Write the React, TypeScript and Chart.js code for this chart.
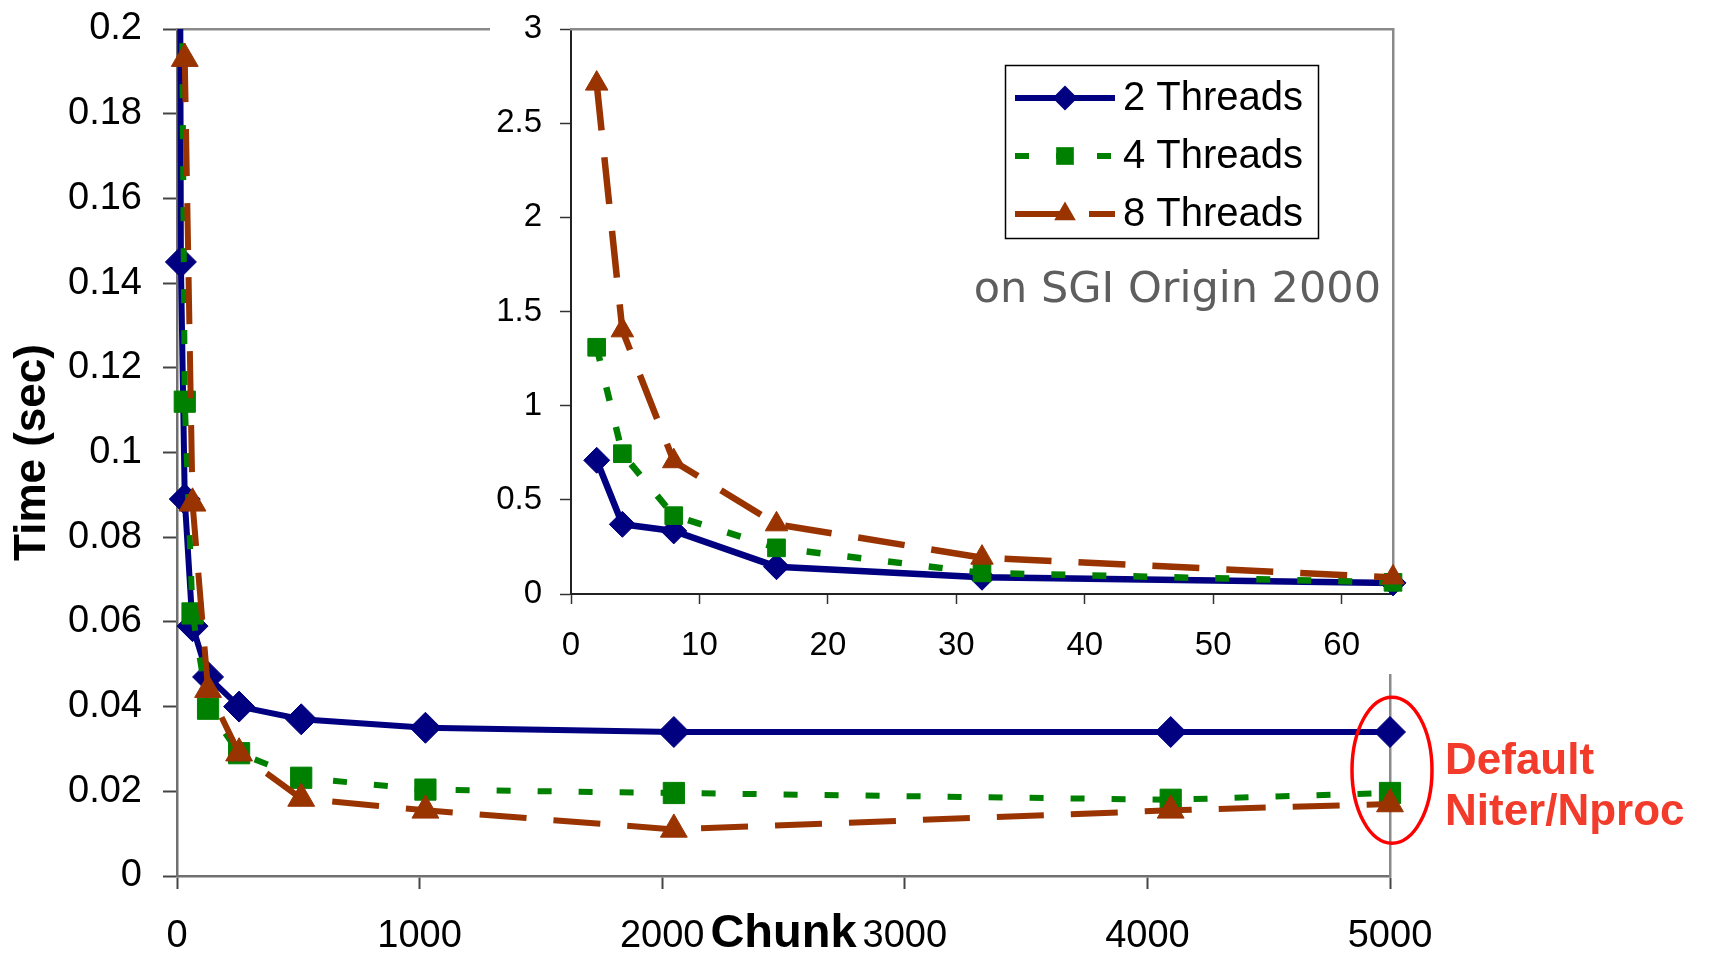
import React, { useEffect, useRef } from 'react';
import { Chart, registerables } from 'chart.js';

Chart.register(...registerables);

// ---------- data ----------
const chunks = [2, 4, 8, 16, 32, 64, 128, 256, 512, 1024, 2048, 4096, 5000];
const threads2 = [0.71, 0.37, 0.335, 0.145, 0.089, 0.059, 0.047, 0.04, 0.037, 0.035, 0.034, 0.034, 0.034];
const threads4 = [1.31, 0.745, 0.416, 0.245, 0.112, 0.062, 0.0395, 0.029, 0.0232, 0.0204, 0.0196, 0.018, 0.0196];
const threads8 = [2.71, 1.4, 0.705, 0.37, 0.193, 0.088, 0.044, 0.029, 0.0183, 0.0155, 0.011, 0.0155, 0.017];
const seriesLabels = ['2 Threads', '4 Threads', '8 Threads'];

const mainXTicks = [0, 1000, 2000, 3000, 4000, 5000];
const mainXTickLabels = ['0', '1000', '2000', '3000', '4000', '5000'];
const mainYTicks = [0, 0.02, 0.04, 0.06, 0.08, 0.1, 0.12, 0.14, 0.16, 0.18, 0.2];
const mainYTickLabels = ['0', '0.02', '0.04', '0.06', '0.08', '0.1', '0.12', '0.14', '0.16', '0.18', '0.2'];
const insetXTicks = [0, 10, 20, 30, 40, 50, 60];
const insetXTickLabels = ['0', '10', '20', '30', '40', '50', '60'];
const insetYTicks = [0, 0.5, 1, 1.5, 2, 2.5, 3];
const insetYTickLabels = ['0', '0.5', '1', '1.5', '2', '2.5', '3'];
const insetMaxChunk = 64;

const xTitle = 'Chunk';
const yTitle = 'Time (sec)';
const platformNote = 'on SGI Origin 2000';
const annotationLines = ['Default', 'Niter/Nproc'];
const annotatedChunk = 5000;
const annotatedTime = 0.025;

// ---------- styles ----------
const FONT = "'Liberation Sans', Arial, sans-serif";
const styles = [
  { color: '#000080', dash: [] as number[], pointStyle: 'rectRot', mainR: 15.5, insetR: 13, order: 2 },
  { color: '#008000', dash: [14, 27], pointStyle: 'rect', mainR: 15, insetR: 12.5, order: 1 },
  { color: '#993300', dash: [47, 27], pointStyle: 'triangle', mainR: 15.5, insetR: 13, order: 0 },
];
const seriesValues = [threads2, threads4, threads8];

function buildDatasets(maxChunk: number, inset: boolean) {
  return seriesValues.map((vals, i) => {
    const st = styles[i];
    const pts = chunks
      .map((c, k) => ({ x: c, y: vals[k] }))
      .filter((p) => p.x <= maxChunk);
    return {
      label: seriesLabels[i],
      data: pts,
      borderColor: st.color,
      backgroundColor: st.color,
      borderWidth: inset ? 6.5 : 6,
      borderDash: st.dash,
      pointStyle: st.pointStyle,
      pointRadius: inset ? st.insetR : st.mainR,
      pointBorderWidth: 1,
      pointBackgroundColor: st.color,
      pointBorderColor: st.color,
      tension: 0,
      order: st.order,
      clip: { left: 20, right: 30, top: 0, bottom: 20 },
    };
  });
}

function markerPath(ctx: CanvasRenderingContext2D, style: string, x: number, y: number, r: number) {
  ctx.beginPath();
  if (style === 'rectRot') {
    ctx.moveTo(x - r, y);
    ctx.lineTo(x, y - r);
    ctx.lineTo(x + r, y);
    ctx.lineTo(x, y + r);
  } else if (style === 'rect') {
    const s = r * Math.SQRT1_2;
    ctx.rect(x - s, y - s, 2 * s, 2 * s);
  } else {
    ctx.moveTo(x, y - r);
    ctx.lineTo(x + r * Math.sin((2 * Math.PI) / 3), y - r * Math.cos((2 * Math.PI) / 3));
    ctx.lineTo(x + r * Math.sin((4 * Math.PI) / 3), y - r * Math.cos((4 * Math.PI) / 3));
  }
  ctx.closePath();
}

const annotationPlugin = {
  id: 'defaultAnnotation',
  afterDraw(chart: any) {
    const ctx: CanvasRenderingContext2D = chart.ctx;
    const xs = chart.scales.x;
    const ys = chart.scales.y;
    const cx = xs.getPixelForValue(annotatedChunk) + 2;
    const cy = ys.getPixelForValue(annotatedTime);
    ctx.save();
    ctx.strokeStyle = '#ff0000';
    ctx.lineWidth = 3.5;
    ctx.beginPath();
    ctx.ellipse(cx, cy, 40, 73, 0, 0, Math.PI * 2);
    ctx.stroke();
    ctx.fillStyle = '#f23b2a';
    ctx.font = `bold 44px ${FONT}`;
    ctx.textAlign = 'left';
    ctx.textBaseline = 'alphabetic';
    annotationLines.forEach((t, i) => ctx.fillText(t, cx + 53, cy + 4 + i * 51));
    ctx.restore();
  },
};

const insetDecorPlugin = {
  id: 'insetDecor',
  afterDraw(chart: any) {
    const ctx: CanvasRenderingContext2D = chart.ctx;
    const area = chart.chartArea;
    ctx.save();
    // note text
    ctx.fillStyle = '#5e5e5e';
    ctx.font = `43px 'DejaVu Sans', sans-serif`;
    ctx.textAlign = 'right';
    ctx.textBaseline = 'alphabetic';
    ctx.fillText(platformNote, area.right - 12, area.top + 273);

    // legend box
    const bw = 313;
    const bh = 173;
    const bx = area.right - 75 - bw;
    const by = area.top + 36;
    ctx.fillStyle = '#ffffff';
    ctx.fillRect(bx, by, bw, bh);
    ctx.strokeStyle = '#000000';
    ctx.lineWidth = 1.5;
    ctx.strokeRect(bx + 0.5, by + 0.5, bw, bh);

    chart.data.datasets.forEach((ds: any, i: number) => {
      const y = by + 33 + i * 58;
      const x0 = bx + 10;
      const x1 = bx + 110;
      ctx.save();
      ctx.strokeStyle = ds.borderColor;
      ctx.lineWidth = 6;
      ctx.setLineDash(ds.borderDash || []);
      ctx.beginPath();
      ctx.moveTo(x0, y);
      ctx.lineTo(x1, y);
      ctx.stroke();
      ctx.setLineDash([]);
      ctx.fillStyle = ds.borderColor;
      markerPath(ctx, ds.pointStyle, (x0 + x1) / 2, y, 12.5);
      ctx.fill();
      ctx.restore();
      ctx.fillStyle = '#000000';
      ctx.font = `40px ${FONT}`;
      ctx.textAlign = 'left';
      ctx.textBaseline = 'middle';
      ctx.fillText(ds.label, bx + 118, y + 1);
    });
    ctx.restore();
  },
};

function fixedTicks(values: number[]) {
  return (scale: any) => {
    scale.ticks = values.map((v) => ({ value: v }));
  };
}

function sized(prop: 'width' | 'height', size: number) {
  return (s: any) => {
    s[prop] = size;
    s.paddingTop = 0;
    s.paddingBottom = 0;
    s.paddingLeft = 0;
    s.paddingRight = 0;
  };
}

function frameAxis(position: 'top' | 'right') {
  return {
    type: 'linear',
    position,
    min: 0,
    max: 1,
    ticks: { display: false },
    grid: { display: false, drawTicks: false },
    border: { display: true, color: '#8a8a8a', width: 2.5 },
    afterFit: sized(position === 'top' ? 'height' : 'width', 0),
  };
}

export default function App() {
  const mainRef = useRef<HTMLCanvasElement>(null);
  const insetRef = useRef<HTMLCanvasElement>(null);

  useEffect(() => {
    if (!mainRef.current || !insetRef.current) return;
    Chart.defaults.font.family = FONT;
    Chart.defaults.color = '#000';

    const main = new Chart(mainRef.current, {
      type: 'line',
      data: { datasets: buildDatasets(Infinity, false) as any },
      plugins: [annotationPlugin],
      options: {
        animation: false,
        responsive: false,
        devicePixelRatio: 1,
        layout: { padding: { left: 0, right: 319, top: 29, bottom: 0 } },
        plugins: { legend: { display: false }, tooltip: { enabled: false } },
        scales: {
          x: {
            type: 'linear',
            position: 'bottom',
            min: 0,
            max: 5000,
            afterBuildTicks: fixedTicks(mainXTicks),
            afterFit: sized('height', 83),
            ticks: { font: { size: 38 }, padding: 25, color: '#000', maxRotation: 0, callback: (_v: any, i: number) => mainXTickLabels[i] },
            grid: { display: true, drawOnChartArea: false, drawTicks: true, tickLength: 13, tickColor: '#444', tickWidth: 2 },
            border: { display: true, color: '#707070', width: 2.5 },
            title: { display: true, text: xTitle, font: { size: 47, weight: 'bold' }, color: '#000', padding: { top: 0, bottom: -3 } },
          },
          y: {
            type: 'linear',
            position: 'left',
            min: 0,
            max: 0.2,
            afterBuildTicks: fixedTicks(mainYTicks),
            afterFit: sized('width', 177),
            ticks: { font: { size: 38 }, padding: 21, color: '#000', callback: (_v: any, i: number) => mainYTickLabels[i] },
            grid: { display: true, drawOnChartArea: false, drawTicks: true, tickLength: 14, tickColor: '#444', tickWidth: 2 },
            border: { display: true, color: '#707070', width: 2.5 },
            title: { display: true, text: yTitle, font: { size: 44, weight: 'bold' }, color: '#000', padding: { top: 6, bottom: 0 } },
          },
          xTop: frameAxis('top'),
          yRight: frameAxis('right'),
        },
      } as any,
    });

    const inset = new Chart(insetRef.current, {
      type: 'line',
      data: { datasets: buildDatasets(insetMaxChunk, true) as any },
      plugins: [insetDecorPlugin],
      options: {
        animation: false,
        responsive: false,
        devicePixelRatio: 1,
        layout: { padding: { left: 0, right: 17, top: 29, bottom: 0 } },
        plugins: { legend: { display: false }, tooltip: { enabled: false } },
        scales: {
          x: {
            type: 'linear',
            position: 'bottom',
            min: 0,
            max: insetMaxChunk,
            afterBuildTicks: fixedTicks(insetXTicks),
            afterFit: sized('height', 80),
            ticks: { font: { size: 33 }, padding: 22, color: '#000', maxRotation: 0, callback: (_v: any, i: number) => insetXTickLabels[i] },
            grid: { display: true, drawOnChartArea: false, drawTicks: true, tickLength: 10, tickColor: '#333', tickWidth: 1.5 },
            border: { display: true, color: '#222', width: 2 },
          },
          y: {
            type: 'linear',
            position: 'left',
            min: 0,
            max: 3,
            afterBuildTicks: fixedTicks(insetYTicks),
            afterFit: sized('width', 81),
            ticks: { font: { size: 33 }, padding: 18, color: '#000', callback: (_v: any, i: number) => insetYTickLabels[i] },
            grid: { display: true, drawOnChartArea: false, drawTicks: true, tickLength: 11, tickColor: '#333', tickWidth: 1.5 },
            border: { display: true, color: '#222', width: 2 },
          },
          xTop: frameAxis('top'),
          yRight: frameAxis('right'),
        },
      } as any,
    });

    return () => {
      main.destroy();
      inset.destroy();
    };
  }, []);

  return (
    <div style={{ position: 'fixed', left: 0, top: 0, width: 1709, height: 959, background: '#ffffff', overflow: 'hidden' }}>
      <canvas ref={mainRef} width={1709} height={959} style={{ position: 'absolute', left: 0, top: 0, width: 1709, height: 959 }} />
      <canvas ref={insetRef} width={920} height={674} style={{ position: 'absolute', left: 490, top: 0, width: 920, height: 674, background: '#ffffff' }} />
    </div>
  );
}
